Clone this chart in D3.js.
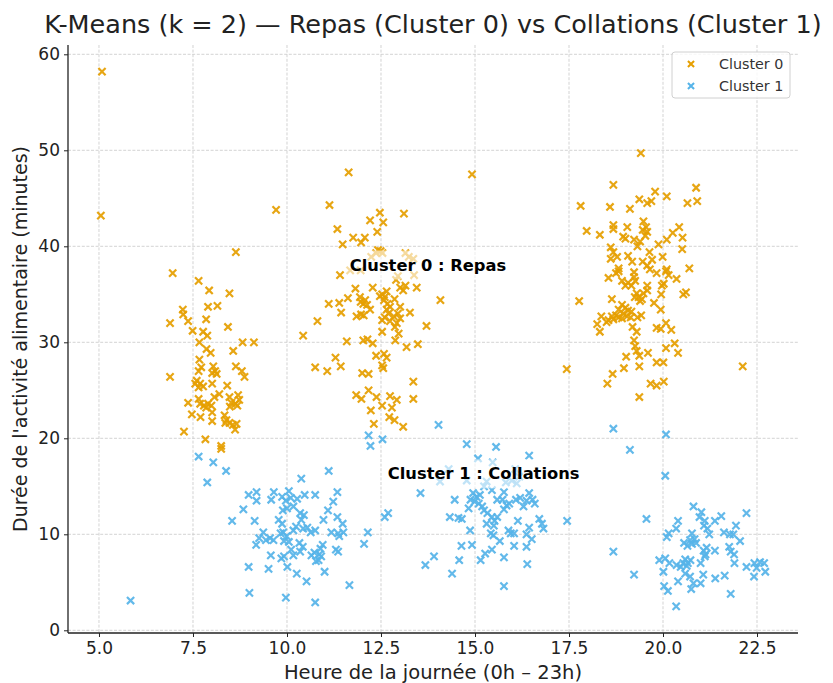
<!DOCTYPE html>
<html>
<head>
<meta charset="utf-8">
<script src="https://cdn.jsdelivr.net/npm/d3@7"></script>
<style>
  body { margin: 0; background: #fff; }
  svg { font-family: "DejaVu Sans", sans-serif; }
</style>
</head>
<body>
<div id="chart"></div>
<script>
var W = 833, H = 683
var margin = {top: 45, right: 35, bottom: 50, left: 68}

// cluster 0 : repas (heure, durée en minutes)
var repasMatin = [[5.05,43.2],[5.08,58.2],[8.64,39.4],[6.96,37.2],[7.65,36.4],[7.93,35.4],[8.47,35.1],[7.90,33.7],[8.15,33.8],[7.23,33.4],[7.24,32.9],[7.37,32.2],[6.89,32.0],[7.85,32.4],[8.43,31.6],[7.49,31.2],[7.77,31.1],[7.88,30.7],[7.67,30.0],[8.82,30.0],[9.12,30.0],[7.86,29.3],[7.97,28.9],[8.57,29.1],[7.67,28.2],[8.64,27.5],[7.72,27.4],[7.65,27.0],[8.04,27.5],[8.09,27.0],[8.13,26.7],[8.01,26.8],[8.80,27.0],[8.87,26.4],[6.89,26.4],[7.60,26.0],[7.69,25.7],[7.56,25.7],[7.77,25.4],[7.65,25.3],[8.01,25.7],[8.41,25.5],[7.65,24.1],[7.69,23.6],[7.79,23.4],[7.90,23.6],[7.85,23.2],[7.99,23.4],[8.07,24.3],[8.20,24.6],[8.47,24.3],[8.52,23.7],[8.70,24.5],[8.73,24.0],[8.68,23.4],[8.63,23.6],[8.48,23.3],[7.37,23.7],[8.01,22.7],[7.47,22.5],[7.70,22.2],[8.01,21.8],[8.34,22.4],[8.39,21.9],[8.47,21.6],[8.56,21.4],[8.66,21.5],[8.62,20.9],[8.36,21.6],[7.26,20.7],[7.83,19.9],[8.25,19.2],[8.25,18.9]]
var repasMidi = [[9.71,43.8],[14.92,47.5],[11.64,47.7],[11.13,44.3],[12.47,43.5],[13.11,43.4],[12.21,42.7],[12.56,42.5],[11.34,41.8],[12.40,41.5],[11.76,40.9],[12.07,40.9],[11.97,40.4],[11.48,40.2],[12.42,39.6],[12.49,39.5],[12.37,39.3],[12.54,39.3],[13.15,39.3],[13.24,38.9],[13.36,38.7],[12.24,38.9],[11.68,37.5],[11.96,37.5],[11.41,37.0],[12.95,36.9],[12.90,36.5],[13.38,37.0],[11.82,35.6],[12.28,35.7],[12.65,35.3],[12.60,34.7],[12.53,35.0],[13.01,35.7],[13.15,35.9],[13.09,35.4],[13.45,35.7],[11.62,34.6],[11.94,34.7],[11.96,34.2],[12.03,34.0],[12.13,33.9],[12.08,34.4],[12.47,34.8],[12.58,34.4],[12.67,34.0],[12.74,33.7],[12.86,34.5],[14.08,34.4],[11.11,34.0],[11.39,34.1],[13.01,33.7],[11.97,32.9],[11.85,32.7],[12.04,32.8],[12.21,33.4],[11.44,33.1],[10.81,32.2],[10.43,30.7],[12.70,33.0],[12.60,32.6],[12.74,32.2],[12.84,32.7],[12.92,32.0],[12.95,33.0],[13.01,32.5],[12.53,32.3],[12.87,31.6],[12.97,30.9],[12.53,31.1],[12.65,33.4],[13.27,33.1],[13.71,31.7],[11.59,30.1],[12.03,30.2],[12.14,30.3],[12.28,29.9],[12.88,30.2],[13.18,29.5],[13.48,29.8],[12.37,28.6],[12.58,28.8],[12.65,28.4],[12.53,27.6],[12.56,27.3],[11.29,28.4],[11.43,27.5],[10.75,27.4],[11.07,27.0],[12.00,26.8],[12.17,26.7],[13.36,25.9],[12.17,25.0],[11.84,24.5],[11.98,24.1],[12.38,24.3],[12.74,24.4],[12.92,24.0],[12.79,23.2],[13.36,24.1],[12.53,23.4],[12.23,22.9],[12.72,22.2],[12.86,21.9],[13.09,21.2],[12.31,21.5]]
var repasSoir = [[19.41,49.7],[18.68,46.4],[20.88,46.1],[19.79,45.7],[20.10,45.2],[19.37,44.9],[19.58,44.5],[19.69,44.7],[20.65,44.5],[20.91,44.7],[17.81,44.2],[18.59,44.1],[19.12,43.9],[18.68,42.2],[18.68,41.8],[19.05,42.0],[19.48,42.6],[19.55,42.0],[19.58,41.5],[19.53,41.1],[19.46,41.7],[17.97,41.6],[18.32,41.2],[20.43,42.0],[20.26,41.4],[20.10,40.7],[20.52,40.9],[18.94,41.0],[19.00,40.8],[19.23,40.7],[19.39,40.5],[19.32,40.0],[19.88,40.2],[18.61,39.9],[18.68,39.4],[18.61,38.7],[18.78,38.9],[20.51,39.7],[19.64,39.4],[19.07,39.0],[19.18,38.4],[19.71,38.6],[19.99,38.9],[19.46,38.4],[19.58,38.0],[18.82,37.7],[20.10,37.6],[20.70,37.7],[18.82,37.4],[18.75,37.2],[19.23,37.3],[19.65,37.6],[19.83,37.2],[20.08,37.4],[20.15,37.0],[20.36,36.6],[18.55,36.7],[18.91,36.4],[19.07,36.2],[19.16,35.9],[19.00,35.9],[19.26,36.4],[19.23,36.8],[19.58,35.9],[19.58,35.4],[19.48,35.1],[19.97,35.9],[20.02,36.1],[19.95,35.0],[20.61,35.2],[20.54,35.0],[17.77,34.3],[18.64,34.5],[19.30,35.1],[19.35,34.7],[19.44,34.5],[19.25,34.7],[19.39,34.3],[19.76,34.1],[19.94,33.4],[18.91,33.9],[19.00,33.6],[19.07,33.3],[18.82,33.4],[19.16,33.2],[18.95,33.0],[18.75,32.8],[18.64,32.7],[18.55,32.3],[18.36,32.7],[18.25,31.9],[18.32,31.1],[18.68,32.4],[18.82,32.6],[19.04,32.7],[19.14,32.6],[18.91,32.5],[19.42,32.8],[19.32,32.6],[19.19,31.6],[19.30,31.1],[18.50,32.1],[19.83,31.5],[20.08,32.0],[20.22,31.3],[19.94,31.4],[19.23,30.2],[19.26,29.6],[19.30,29.1],[19.37,28.6],[20.08,29.4],[20.31,29.9],[20.40,28.9],[19.60,28.9],[19.02,28.5],[19.83,27.9],[20.01,27.9],[19.37,27.5],[18.96,27.3],[17.44,27.2],[22.12,27.5],[18.66,26.7],[18.52,25.7],[19.67,25.7],[19.83,25.5],[20.02,25.9],[19.37,24.3]]

// cluster 1 : collations
var collationsMatin = [[7.65,18.1],[8.04,17.5],[8.38,16.6],[7.88,15.4],[8.98,14.1],[9.19,14.4],[9.19,13.5],[8.84,12.6],[8.54,11.4],[9.14,11.4],[9.18,8.9],[8.98,6.6],[9.00,3.9],[5.84,3.1],[11.11,16.6],[10.38,15.8],[9.65,14.4],[9.58,13.6],[9.87,13.9],[10.05,14.5],[10.10,13.8],[9.97,13.5],[10.27,13.7],[10.47,14.1],[10.75,14.1],[11.34,14.4],[11.23,13.4],[9.89,12.5],[10.17,12.9],[10.00,12.7],[11.09,12.5],[9.78,11.5],[9.87,11.1],[10.35,12.2],[10.45,12.0],[10.38,11.5],[10.24,10.8],[10.43,10.6],[10.54,10.7],[10.97,11.5],[11.34,11.8],[11.48,11.1],[10.75,10.4],[10.63,10.2],[9.37,10.2],[9.44,9.4],[9.55,9.6],[9.64,9.4],[9.26,9.6],[9.83,10.1],[9.90,10.2],[9.99,9.8],[9.92,9.3],[10.05,9.2],[10.17,10.4],[11.18,10.2],[11.36,10.1],[11.50,10.2],[11.39,9.8],[12.15,10.2],[12.05,9.0],[10.33,9.1],[10.42,8.7],[10.35,8.2],[10.95,8.9],[10.89,8.5],[10.86,7.9],[10.91,7.7],[10.73,8.1],[10.65,7.8],[10.84,7.3],[10.77,7.2],[10.17,7.8],[10.11,8.4],[11.30,8.4],[11.36,8.2],[9.57,7.8],[9.85,7.5],[9.92,7.7],[10.01,6.6],[9.51,6.4],[10.26,5.9],[10.52,5.1],[11.00,6.1],[11.66,4.7],[9.97,3.4],[10.75,2.9],[12.17,20.3],[12.22,19.2],[12.54,19.9],[12.60,11.8],[12.69,12.2]]
var collationsAprem = [[14.03,21.4],[14.78,19.4],[15.56,19.1],[16.44,18.2],[15.08,17.9],[15.47,17.5],[14.30,16.8],[14.07,15.5],[14.78,15.6],[15.31,15.5],[15.24,15.0],[15.45,14.6],[15.82,15.4],[15.98,15.6],[16.11,15.3],[16.18,16.0],[16.07,16.8],[13.55,14.3],[14.46,13.6],[14.95,14.3],[15.04,13.9],[15.13,14.1],[14.88,13.6],[14.99,13.4],[15.10,13.2],[15.19,12.9],[15.24,12.5],[14.83,12.7],[15.59,13.6],[15.73,13.6],[15.84,13.0],[15.77,12.6],[15.91,13.2],[16.09,13.6],[16.20,13.8],[16.37,13.5],[16.29,12.9],[16.44,14.3],[16.53,13.6],[16.59,13.2],[15.77,14.4],[15.33,12.2],[15.45,11.8],[15.52,11.4],[15.59,11.8],[15.50,10.9],[15.31,11.1],[14.33,11.8],[14.56,11.7],[14.65,11.6],[16.14,11.4],[16.71,11.6],[16.78,11.1],[16.82,10.6],[14.87,10.4],[15.89,10.4],[16.04,10.1],[15.95,10.1],[16.44,10.7],[16.51,9.5],[16.37,10.0],[15.42,10.1],[15.49,9.9],[15.66,9.3],[14.64,8.8],[14.92,8.9],[16.04,8.8],[16.37,8.7],[15.45,8.4],[15.27,8.0],[15.15,7.3],[15.77,7.6],[13.91,7.7],[13.68,6.8],[14.58,7.3],[16.39,6.9],[14.39,5.9],[15.77,4.6],[17.45,11.4]]
var collationsSoir = [[18.68,21.0],[20.08,20.4],[19.12,18.8],[20.06,16.1],[20.81,12.9],[21.02,12.3],[20.97,11.8],[22.22,12.2],[21.55,11.9],[19.56,11.6],[20.40,11.4],[20.35,10.6],[21.11,11.4],[21.09,10.9],[21.18,10.6],[21.38,11.4],[21.23,10.0],[21.94,10.9],[21.62,10.2],[21.78,10.0],[21.87,10.0],[22.05,9.3],[20.15,10.1],[20.10,9.7],[20.77,10.1],[20.56,9.1],[20.65,8.8],[20.77,9.0],[20.88,9.1],[20.72,9.4],[20.84,9.5],[18.68,8.2],[21.08,8.3],[21.16,8.6],[21.13,7.9],[21.38,8.3],[21.76,8.7],[21.80,8.2],[21.89,7.9],[21.90,7.0],[19.90,7.3],[20.06,7.5],[20.17,7.0],[20.01,6.1],[20.36,6.8],[20.47,6.6],[20.59,7.4],[20.66,7.0],[20.63,6.7],[20.73,7.3],[20.54,7.0],[21.00,7.0],[21.11,7.7],[22.22,6.6],[22.43,7.0],[22.58,7.1],[22.69,7.0],[22.49,6.5],[22.72,6.1],[22.42,5.6],[19.23,5.8],[20.59,5.9],[20.72,5.6],[20.81,4.9],[20.75,4.3],[21.00,4.9],[21.07,5.8],[20.40,5.1],[21.39,5.4],[21.64,5.7],[20.03,4.6],[20.13,4.1],[21.80,3.8],[20.35,2.5]]

var xTicks = [5, 7.5, 10, 12.5, 15, 17.5, 20, 22.5]
var yTicks = [0, 10, 20, 30, 40, 50, 60]
var clusterNames = ['Cluster 0', 'Cluster 1']
var colors = ['#E69F00', '#56B4E9']
var notes = [
  {text: 'Cluster 0 : Repas', x: 13.75, y: 38.05},
  {text: 'Cluster 1 : Collations', x: 15.23, y: 16.3}
]

var series = [
  repasMatin.concat(repasMidi, repasSoir),
  collationsMatin.concat(collationsAprem, collationsSoir)
]

var x = d3.scaleLinear().domain([4.176, 23.59]).range([margin.left, W - margin.right])
var y = d3.scaleLinear().domain([-0.28, 60.97]).range([H - margin.bottom, margin.top])

var svg = d3.select('#chart').append('svg')
    .attr('width', W).attr('height', H)

// grid
var grid = svg.append('g').attr('stroke', '#c8c8c8').attr('stroke-width', 0.8)
    .attr('stroke-dasharray', '3,1.6')
grid.selectAll('line.gx').data(xTicks).enter().append('line')
    .attr('x1', x).attr('x2', x)
    .attr('y1', margin.top).attr('y2', H - margin.bottom)
grid.selectAll('line.gy').data(yTicks).enter().append('line')
    .attr('y1', y).attr('y2', y)
    .attr('x1', margin.left).attr('x2', W - margin.right)

var xMark = 'M-3.6,-3.6L3.6,3.6M-3.6,3.6L3.6,-3.6'

series.forEach(function(pts, i){
  svg.append('g').selectAll('path').data(pts).enter().append('path')
      .attr('d', xMark)
      .attr('transform', function(d){ return 'translate(' + x(d[0]) + ',' + y(d[1]) + ')' })
      .attr('stroke', colors[i]).attr('stroke-width', 2.2)
      .attr('stroke-linecap', 'butt')
      .attr('opacity', 0.92)
})

// axes
var xAxis = svg.append('g')
    .attr('transform', 'translate(0,' + (H - margin.bottom) + ')')
    .call(d3.axisBottom(x).tickValues(xTicks).tickFormat(d3.format('.1f')).tickSize(4).tickPadding(5))
var yAxis = svg.append('g')
    .attr('transform', 'translate(' + margin.left + ',0)')
    .call(d3.axisLeft(y).tickValues(yTicks).tickFormat(d3.format('d')).tickSize(4).tickPadding(4))

;[xAxis, yAxis].forEach(function(a){
  a.select('.domain').attr('stroke', '#222').attr('stroke-width', 1.3)
  a.selectAll('.tick line').attr('stroke', '#222').attr('stroke-width', 1)
  a.selectAll('.tick text').attr('font-size', 17).attr('fill', '#222')
      .attr('font-family', '"DejaVu Sans", sans-serif')
})
xAxis.select('.domain').attr('d', 'M' + margin.left + ',0H' + (W - margin.right))
yAxis.select('.domain').attr('d', 'M0,' + (H - margin.bottom) + 'V' + margin.top)

// annotations
notes.forEach(function(n){
  var g = svg.append('g')
  var t = g.append('text')
      .attr('x', x(n.x)).attr('y', y(n.y))
      .attr('text-anchor', 'middle').attr('dominant-baseline', 'central')
      .attr('font-size', 16.3).attr('font-weight', 'bold').attr('fill', '#000')
      .text(n.text)
  var b = t.node().getBBox()
  g.insert('rect', 'text')
      .attr('x', b.x - 4).attr('y', b.y - 5)
      .attr('width', b.width + 8).attr('height', b.height + 10)
      .attr('fill', '#fff').attr('opacity', 0.6)
})

// titles
svg.append('text')
    .attr('x', (margin.left + W - margin.right) / 2).attr('y', 33)
    .attr('text-anchor', 'middle').attr('font-size', 25.5).attr('fill', '#222')
    .text('K-Means (k = 2) — Repas (Cluster 0) vs Collations (Cluster 1)')
svg.append('text')
    .attr('x', (margin.left + W - margin.right) / 2).attr('y', 679)
    .attr('text-anchor', 'middle').attr('font-size', 19.5).attr('fill', '#222')
    .text('Heure de la journée (0h – 23h)')
svg.append('text')
    .attr('transform', 'translate(27,' + ((margin.top + H - margin.bottom) / 2) + ') rotate(-90)')
    .attr('text-anchor', 'middle').attr('font-size', 19).attr('fill', '#222')
    .text("Durée de l'activité alimentaire (minutes)")

// legend
var lg = svg.append('g').attr('transform', 'translate(672,52)')
lg.append('rect').attr('width', 118).attr('height', 46).attr('rx', 3)
    .attr('fill', '#fff').attr('fill-opacity', 0.8)
    .attr('stroke', '#d0d0d0').attr('stroke-width', 1)
clusterNames.forEach(function(name, i){
  var row = lg.append('g').attr('transform', 'translate(0,' + (12 + i * 22) + ')')
  row.append('path').attr('d', xMark).attr('transform', 'translate(19,0) scale(0.85)')
      .attr('stroke', colors[i]).attr('stroke-width', 2.4)
  row.append('text').attr('x', 47).attr('y', 0).attr('dominant-baseline', 'central')
      .attr('font-size', 14.3).attr('fill', '#333').text(name)
})
</script>
</body>
</html>
